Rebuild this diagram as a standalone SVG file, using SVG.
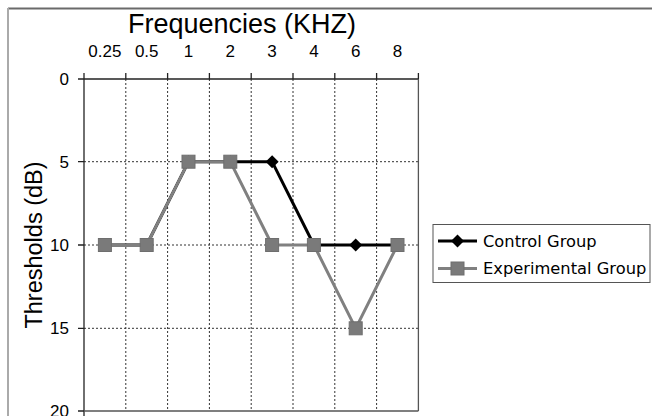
<svg xmlns="http://www.w3.org/2000/svg" width="652" height="416" viewBox="0 0 652 416">
<style>
.ax{font-family:"Liberation Sans",Arial,sans-serif;fill:#000}
.tick{font-size:17px}
.lg{font-family:"DejaVu Sans",Verdana,sans-serif;font-size:16.3px;fill:#000}
.grid{stroke:#333;stroke-width:1;stroke-dasharray:2 2;fill:none}
.axis{stroke:#222;stroke-width:1.3;fill:none}
.ctl{stroke:#000;stroke-width:3;fill:none;stroke-linejoin:round}
.exp{stroke:#808080;stroke-width:3;fill:none;stroke-linejoin:round}
</style>
<defs>
<rect id="sq" x="-6.5" y="-6.5" width="13" height="13" fill="#7a7a7a" stroke="#6e6e6e" stroke-width="1"/>
<path id="dm" d="M0,-6.5 L6.5,0 L0,6.5 L-6.5,0 Z" fill="#000"/>
</defs>
<rect width="652" height="416" fill="#fff"/>
<g id="frame">
<line x1="8" y1="8.5" x2="652" y2="8.5" stroke="#6a6a6a" stroke-width="2"/>
<line x1="8" y1="8" x2="8" y2="416" stroke="#aaa" stroke-width="2"/>
</g>
<g id="grid">
<line class="grid" x1="125.8" y1="79" x2="125.8" y2="411"/>
<line class="grid" x1="167.6" y1="79" x2="167.6" y2="411"/>
<line class="grid" x1="209.4" y1="79" x2="209.4" y2="411"/>
<line class="grid" x1="251.2" y1="79" x2="251.2" y2="411"/>
<line class="grid" x1="293" y1="79" x2="293" y2="411"/>
<line class="grid" x1="334.8" y1="79" x2="334.8" y2="411"/>
<line class="grid" x1="376.6" y1="79" x2="376.6" y2="411"/>
<line class="grid" x1="84" y1="161.7" x2="418.4" y2="161.7"/>
<line class="grid" x1="84" y1="245" x2="418.4" y2="245"/>
<line class="grid" x1="84" y1="328.3" x2="418.4" y2="328.3"/>
</g>
<g id="axes">
<line class="axis" x1="84" y1="79" x2="418.4" y2="79"/>
<line class="axis" x1="84" y1="73" x2="84" y2="416"/>
<line x1="418.4" y1="79" x2="418.4" y2="411" stroke="#555" stroke-width="1.3"/>
<line x1="84" y1="411" x2="418.4" y2="411" stroke="#555" stroke-width="1.3"/>
<path class="axis" d="M125.8,73V79M167.6,73V79M209.4,73V79M251.2,73V79M293,73V79M334.8,73V79M376.6,73V79M418.4,73V79"/>
<path class="axis" d="M78,79H84M78,161.7H84M78,245H84M78,328.3H84M78,411H84"/>
</g>
<g id="labels">
<text class="ax" x="242" y="33" font-size="27" text-anchor="middle">Frequencies (KHZ)</text>
<g class="ax tick" text-anchor="middle">
<text x="104.9" y="57">0.25</text>
<text x="146.7" y="57">0.5</text>
<text x="188.5" y="57">1</text>
<text x="230.3" y="57">2</text>
<text x="272.1" y="57">3</text>
<text x="313.9" y="57">4</text>
<text x="355.7" y="57">6</text>
<text x="397.5" y="57">8</text>
</g>
<g class="ax tick" text-anchor="end">
<text x="69" y="85">0</text>
<text x="69" y="168">5</text>
<text x="69" y="251">10</text>
<text x="69" y="334">15</text>
<text x="69" y="417">20</text>
</g>
<text class="ax" transform="translate(42,245) rotate(-90)" font-size="23.5" text-anchor="middle">Thresholds (dB)</text>
</g>
<g id="series">
<polyline id="control-line" class="ctl" points="104.9,245 146.7,245 188.5,161.7 230.3,161.7 272.1,161.7 313.9,245 355.7,245 397.5,245"/>
<g id="control-markers">
<use href="#dm" x="104.9" y="245"/><use href="#dm" x="146.7" y="245"/><use href="#dm" x="188.5" y="161.7"/><use href="#dm" x="230.3" y="161.7"/><use href="#dm" x="272.1" y="161.7"/><use href="#dm" x="313.9" y="245"/><use href="#dm" x="355.7" y="245"/><use href="#dm" x="397.5" y="245"/>
</g>
<polyline id="exp-line" class="exp" points="104.9,245 146.7,245 188.5,161.7 230.3,161.7 272.1,245 313.9,245 355.7,328.3 397.5,245"/>
<g id="exp-markers">
<use href="#sq" x="104.9" y="245"/><use href="#sq" x="146.7" y="245"/><use href="#sq" x="188.5" y="161.7"/><use href="#sq" x="230.3" y="161.7"/><use href="#sq" x="272.1" y="245"/><use href="#sq" x="313.9" y="245"/><use href="#sq" x="355.7" y="328.3"/><use href="#sq" x="397.5" y="245"/>
</g>
</g>
<g id="legend">
<rect x="433" y="224.5" width="217" height="58" fill="#fff" stroke="#555" stroke-width="1"/>
<line class="ctl" x1="438" y1="241" x2="477" y2="241"/>
<use href="#dm" x="457.5" y="241"/>
<text class="lg" x="483" y="246.8">Control Group</text>
<line class="exp" x1="438" y1="268.5" x2="477" y2="268.5"/>
<use href="#sq" x="457.5" y="268.5"/>
<text class="lg" x="483" y="274.3">Experimental Group</text>
</g>
</svg>
